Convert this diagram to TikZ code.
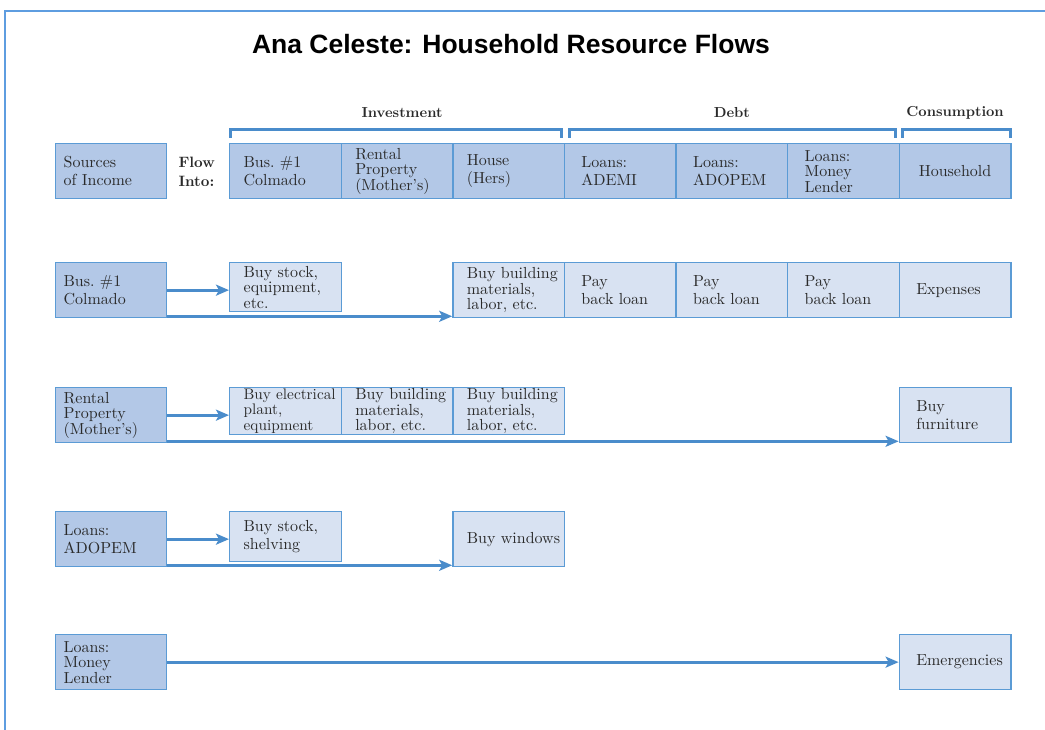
\documentclass[tikz,border=0pt]{standalone}
\usepackage{fontspec}
% Latin Modern at its 10pt design size throughout, for the wider letterforms
\setmainfont{lmroman10-regular.otf}[BoldFont=lmroman10-bold.otf]
\newfontfamily\titlefont{Liberation Sans}
\usetikzlibrary{arrows.meta,calc}

\definecolor{hdrfill}{HTML}{B3C8E7}
\definecolor{cellfill}{HTML}{D8E2F2}
\definecolor{edge}{HTML}{5B9BD5}
\definecolor{flowc}{HTML}{4A8CCB}
\definecolor{framec}{HTML}{5E9DE0}
\definecolor{ink}{HTML}{2A2A2A}

\begin{document}
\begin{tikzpicture}[x=1pt,y=-1pt,
  cellfont/.style={font=\fontsize{16}{18}\selectfont},
  tight/.style={font=\fontsize{16}{15.5}\selectfont},
  snug/.style={font=\fontsize{15.3}{15.5}\selectfont},
  box/.style={draw=edge, line width=1.3pt, anchor=north west, minimum height=55pt,
    minimum width=111.6pt, inner ysep=1pt, align=left, text=ink, cellfont,
    execute at begin node={\hyphenpenalty=10000\exhyphenpenalty=10000\relax}},
  hdr/.style={box, fill=hdrfill},
  cell/.style={box, fill=cellfill},
  inv/.style={inner xsep=14pt, text width=83.6pt},
  dbt/.style={inner xsep=17pt, text width=77.6pt},
  src/.style={hdr, minimum width=111pt, inner xsep=8pt, text width=95pt},
  catlabel/.style={font=\bfseries\fontsize{14.5}{16}\selectfont, text=ink, yshift=30pt},
  flow/.style={draw=flowc, line width=2.8pt, -{Stealth[length=13pt,width=11pt,inset=3pt]}},
  brk/.style={draw=flowc, line width=3pt}
]
\useasboundingbox (0,0) rectangle (1045,730);

% page frame
\draw[framec, line width=1.8pt] (1045,11) -- (5,11) -- (5,730);

% title
\node[font=\titlefont\fontsize{26.5}{30}\selectfont\bfseries, text=black, anchor=base]
  (title) at (511,53.5) {Ana Celeste: Household Resource Flows};

% header row
\node[src] (hsrc) at (55,143) {Sources\\of Income};
\node[anchor=west, align=left, text=ink, font=\bfseries\fontsize{15}{19}\selectfont]
  (flowinto) at (175,171.5) {Flow\\Into:};
\node[hdr,inv] (hbus) at (229,143) {Bus.\ \#1\\Colmado};
\node[hdr,inv,tight] (hrent) at (340.6,143) {Rental\\Property\\(Mother's)};
\node[hdr,inv] (hhouse) at (452.2,143) {House\\(Hers)};
\node[hdr,dbt] (hademi) at (563.8,143) {Loans:\\ADEMI};
\node[hdr,dbt] (hadopem) at (675.4,143) {Loans:\\ADOPEM};
\node[hdr,dbt,tight] (hlender) at (787,143) {Loans:\\Money\\Lender};
\node[hdr,inner xsep=8pt,text width=95.6pt,align=center] (hhold) at (898.6,143) {Household};

% category brackets and labels
\draw[brk] ([xshift=1.5pt,yshift=5pt]hbus.north west) -- ([xshift=1.5pt,yshift=13pt]hbus.north west)
  -- ([xshift=-3.5pt,yshift=13pt]hhouse.north east) -- ([xshift=-3.5pt,yshift=5pt]hhouse.north east);
\draw[brk] ([xshift=5.5pt,yshift=5pt]hademi.north west) -- ([xshift=5.5pt,yshift=13pt]hademi.north west)
  -- ([xshift=-4.5pt,yshift=13pt]hlender.north east) -- ([xshift=-4.5pt,yshift=5pt]hlender.north east);
\draw[brk] ([xshift=3.5pt,yshift=5pt]hhold.north west) -- ([xshift=3.5pt,yshift=13pt]hhold.north west)
  -- ([xshift=-1.5pt,yshift=13pt]hhold.north east) -- ([xshift=-1.5pt,yshift=5pt]hhold.north east);
\node[catlabel, xshift=5pt] (linv) at ($(hbus.north west)!0.5!(hhouse.north east)$) {Investment};
\node[catlabel] (ldebt) at ($(hademi.north west)!0.5!(hlender.north east)$) {Debt};
\node[catlabel] (lcons) at ($(hhold.north west)!0.5!(hhold.north east)$) {Consumption};

% row: business
\node[src] (sbus) at (55,262) {Bus.\ \#1\\Colmado};
\node[cell,inv,tight,minimum height=49pt] (stock) at (229,262) {Buy~stock,\\equipment,\\etc.};
\node[cell,inv,tight] (build1) at (452.2,262) {Buy~building\\materials,\\labor,~etc.};
\node[cell,dbt] (pay1) at (563.8,262) {Pay\\back~loan};
\node[cell,dbt] (pay2) at (675.4,262) {Pay\\back~loan};
\node[cell,dbt] (pay3) at (787,262) {Pay\\back~loan};
\node[cell,dbt] (expenses) at (898.6,262) {Expenses};

% row: rental property
\node[src,tight] (srent) at (55,387) {Rental\\Property\\(Mother's)};
\node[cell,inv,snug,minimum height=47pt] (elec) at (229,387) {Buy~electrical\\plant,\\equipment};
\node[cell,inv,tight,minimum height=47pt] (build2) at (340.6,387) {Buy~building\\materials,\\labor,~etc.};
\node[cell,inv,tight,minimum height=47pt] (build3) at (452.2,387) {Buy~building\\materials,\\labor,~etc.};
\node[cell,dbt] (furn) at (898.6,387) {Buy\\furniture};

% row: ADOPEM loan
\node[src] (sadopem) at (55,511) {Loans:\\ADOPEM};
\node[cell,inv,minimum height=50pt] (shelv) at (229,511) {Buy~stock,\\shelving};
\node[cell,inv] (windows) at (452.2,511) {Buy~windows};

% row: money lender
\node[src,tight] (slender) at (55,634) {Loans:\\Money\\Lender};
\node[cell,dbt] (emerg) at (898.6,634) {Emergencies};

% flows
\draw[flow] (sbus.east) -- (sbus.east -| stock.west);
\draw[flow] ([yshift=2pt]sbus.south east) -- ([yshift=2pt]sbus.south east -| build1.west);
\draw[flow] (srent.east) -- (srent.east -| elec.west);
\draw[flow] ([yshift=2pt]srent.south east) -- ([yshift=2pt]srent.south east -| furn.west);
\draw[flow] (sadopem.east) -- (sadopem.east -| shelv.west);
\draw[flow] ([yshift=2pt]sadopem.south east) -- ([yshift=2pt]sadopem.south east -| windows.west);
\draw[flow] (slender.east) -- (slender.east -| emerg.west);
\end{tikzpicture}
\end{document}
